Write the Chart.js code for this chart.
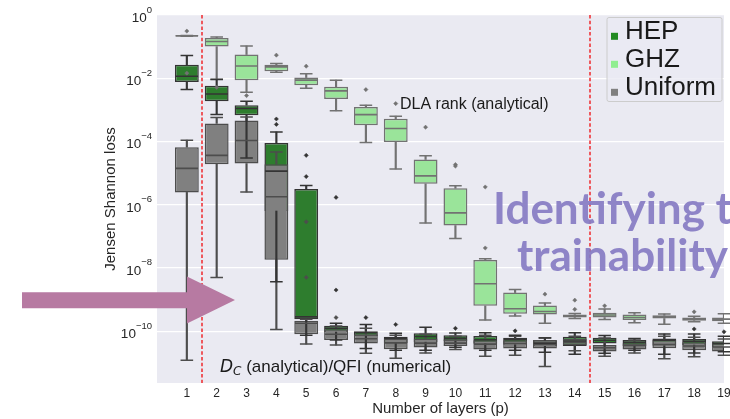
<!DOCTYPE html>
<html>
<head>
<meta charset="utf-8">
<script src="https://cdn.jsdelivr.net/npm/chart.js@4.4.0/dist/chart.umd.min.js"></script>
<style>
  html, body { margin: 0; padding: 0; background: #ffffff; }
  #wrap { width: 730px; height: 419px; }
</style>
</head>
<body>
<div id="wrap"><canvas id="chart" width="730" height="419"></canvas></div>
<script>
// Number of QAOA layers p
const layers = ['1','2','3','4','5','6','7','8','9','10','11','12','13','14','15','16','17','18','19'];

// Per layer: [lower whisker, Q1, median, Q3, upper whisker] of the Jensen-Shannon loss
const hepStats = [
  [4.37e-3, 7.59e-3, 1.15e-2, 2.69e-2, 5.25e-2],
  [7.08e-4, 1.86e-3, 3.16e-3, 5.75e-3, 9.12e-3],
  [3.02e-5, 6.76e-4, 1.10e-3, 1.41e-3, 1.86e-3],
  [3.63e-9, 6.31e-7, 1.15e-5, 8.91e-5, 2.00e-4],
  [7.41e-11, 2.40e-10, 2.82e-10, 3.16e-6, 4.07e-6],
  [5.25e-11, 9.33e-11, 1.23e-10, 1.48e-10, 1.78e-10],
  [2.82e-11, 6.92e-11, 8.91e-11, 1.00e-10, 1.62e-10],
  [2.51e-11, 4.17e-11, 6.03e-11, 6.61e-11, 8.51e-11],
  [2.51e-11, 4.47e-11, 6.76e-11, 8.51e-11, 1.32e-10],
  [3.09e-11, 4.79e-11, 5.89e-11, 7.41e-11, 8.71e-11],
  [2.51e-11, 3.98e-11, 5.37e-11, 7.08e-11, 8.91e-11],
  [2.51e-11, 3.72e-11, 5.50e-11, 6.17e-11, 7.41e-11],
  [2.14e-11, 3.31e-11, 4.17e-11, 5.13e-11, 6.03e-11],
  [1.86e-11, 3.39e-11, 4.90e-11, 6.61e-11, 8.91e-11],
  [2.00e-11, 4.07e-11, 5.13e-11, 6.17e-11, 7.24e-11],
  [2.51e-11, 3.39e-11, 4.47e-11, 5.25e-11, 5.89e-11],
  [1.86e-11, 3.47e-11, 5.13e-11, 5.89e-11, 8.13e-11],
  [2.04e-11, 3.63e-11, 4.79e-11, 5.62e-11, 8.13e-11],
  [2.24e-11, 3.09e-11, 4.07e-11, 4.79e-11, 6.92e-11]
];
const ghzStats = [
  [2.14e-1, 2.14e-1, 2.19e-1, 2.24e-1, 2.24e-1],
  [9.33e-3, 1.00e-1, 1.45e-1, 1.86e-1, 2.00e-1],
  [3.63e-3, 8.71e-3, 2.45e-2, 5.62e-2, 1.05e-1],
  [1.55e-2, 1.66e-2, 2.29e-2, 2.69e-2, 2.95e-2],
  [4.79e-3, 6.03e-3, 8.71e-3, 1.05e-2, 1.38e-2],
  [9.33e-4, 2.19e-3, 3.98e-3, 5.37e-3, 8.71e-3],
  [9.33e-5, 3.24e-4, 7.08e-4, 1.23e-3, 1.41e-3],
  [1.35e-5, 9.55e-5, 2.57e-4, 5.25e-4, 6.31e-4],
  [2.63e-7, 4.57e-6, 8.13e-6, 2.69e-5, 3.55e-5],
  [8.51e-8, 2.19e-7, 5.50e-7, 3.31e-6, 3.98e-6],
  [2.24e-10, 6.31e-10, 3.16e-9, 1.78e-8, 1.95e-8],
  [3.02e-10, 3.55e-10, 5.13e-10, 1.66e-9, 2.09e-9],
  [1.78e-10, 3.39e-10, 4.17e-10, 6.46e-10, 7.76e-10],
  [2.51e-10, 2.69e-10, 3.02e-10, 3.39e-10, 3.63e-10],
  [2.34e-10, 2.69e-10, 3.24e-10, 3.80e-10, 5.01e-10],
  [1.86e-10, 2.24e-10, 2.69e-10, 3.39e-10, 3.80e-10],
  [1.66e-10, 2.51e-10, 2.82e-10, 3.16e-10, 3.47e-10],
  [2.00e-10, 2.14e-10, 2.40e-10, 2.69e-10, 2.95e-10],
  [1.78e-10, 2.04e-10, 2.40e-10, 2.69e-10, 3.55e-10]
];
const uniformStats = [
  [1.20e-11, 2.45e-6, 1.41e-5, 6.61e-5, 1.10e-4],
  [5.01e-9, 1.91e-5, 3.63e-5, 3.72e-4, 5.75e-4],
  [2.51e-6, 2.00e-5, 1.07e-4, 4.57e-4, 5.89e-4],
  [1.12e-10, 1.82e-8, 1.78e-6, 1.91e-5, 4.68e-5],
  [3.89e-11, 7.94e-11, 1.78e-10, 2.14e-10, 2.40e-10],
  [3.63e-11, 5.25e-11, 7.94e-11, 1.15e-10, 1.45e-10],
  [2.00e-11, 4.07e-11, 5.75e-11, 7.94e-11, 1.23e-10],
  [1.38e-11, 2.69e-11, 4.27e-11, 5.89e-11, 7.41e-11],
  [2.04e-11, 3.02e-11, 4.17e-11, 5.89e-11, 7.94e-11],
  [2.63e-11, 3.39e-11, 4.17e-11, 5.50e-11, 6.92e-11],
  [1.62e-11, 2.63e-11, 3.89e-11, 5.13e-11, 7.41e-11],
  [1.74e-11, 2.82e-11, 4.07e-11, 5.13e-11, 6.92e-11],
  [7.59e-12, 2.82e-11, 3.80e-11, 5.25e-11, 6.17e-11],
  [2.40e-11, 3.63e-11, 4.47e-11, 5.75e-11, 6.92e-11],
  [1.62e-11, 2.29e-11, 3.02e-11, 3.63e-11, 6.03e-11],
  [2.04e-11, 2.63e-11, 3.55e-11, 4.17e-11, 5.25e-11],
  [1.35e-11, 2.88e-11, 3.80e-11, 5.25e-11, 6.92e-11],
  [1.55e-11, 2.51e-11, 3.39e-11, 4.47e-11, 6.46e-11],
  [1.74e-11, 2.29e-11, 3.16e-11, 4.17e-11, 5.62e-11]
];

// Points beyond the whiskers: [layer, value]
const hepOutliers = [[4, 5.13e-4], [4, 3.47e-4], [5, 3.63e-5], [5, 7.76e-6], [6, 1.70e-6], [6, 2.00e-9],
  [7, 2.69e-10], [8, 1.62e-10], [10, 1.23e-10], [12, 1.02e-10], [18, 1.17e-10], [19, 9.55e-11]];
const ghzOutliers = [[1, 3.09e-1], [1, 1.45e-2], [2, 5.13e-3], [3, 2.82e-3], [4, 5.37e-2], [5, 2.40e-2],
  [7, 4.37e-3], [8, 1.58e-3], [9, 2.82e-4], [10, 1.86e-5], [10, 1.66e-5], [11, 4.27e-8], [11, 3.63e-6],
  [13, 1.48e-9], [14, 9.55e-10], [14, 4.90e-10], [15, 6.31e-10], [18, 4.07e-10]];
const uniformOutliers = [[5, 2.88e-7], [5, 5.01e-9], [6, 2.69e-10]];

// Regime boundaries (between layers) and labelled decades
const boundaryLayers = [1.5, 14.5];
const decadeExponents = [0, -2, -4, -6, -8, -10];

const series = [
  { name: 'HEP',     stats: hepStats,     outliers: hepOutliers,     fill: '#2e7d2e', edge: '#343434', key: '#228b22' },
  { name: 'GHZ',     stats: ghzStats,     outliers: ghzOutliers,     fill: '#9ae49a', edge: '#727272', key: '#90ee90' },
  { name: 'Uniform', stats: uniformStats, outliers: uniformOutliers, fill: '#808080', edge: '#4d4d4d', key: '#808080' }
];

// leading empty slot gives the axis its left margin
const axisLabels = [''].concat(layers);
const pad = arr => [null].concat(arr);

const datasets = [];
series.forEach((s, i) => {
  datasets.push({
    type: 'bar', label: s.name,
    data: pad(s.stats.map(r => [r[1], r[3]])),
    backgroundColor: s.fill, borderColor: s.edge, borderWidth: 1.5, borderSkipped: false,
    grouped: false, barPercentage: 0.8, categoryPercentage: 1, order: 30 - i
  });
  [[0, 1], [3, 4]].forEach(([a, b]) => datasets.push({
    type: 'bar', label: s.name + ' whisker',
    data: pad(s.stats.map(r => [r[a], r[b]])),
    backgroundColor: s.edge, borderWidth: 0, barThickness: 1.5, grouped: false, order: 20
  }));
  [0, 4].forEach(k => datasets.push({
    type: 'line', label: s.name + ' cap',
    data: pad(s.stats.map(r => r[k])),
    showLine: false, pointStyle: 'line', pointRadius: 6.3,
    pointBorderColor: s.edge, pointBorderWidth: 1.5, order: 15
  }));
  datasets.push({
    type: 'line', label: s.name + ' median',
    data: pad(s.stats.map(r => r[2])),
    showLine: false, pointStyle: 'line', pointRadius: 11.2,
    pointBorderColor: s.edge, pointBorderWidth: 1.6, order: 10
  });
  datasets.push({
    type: 'line', label: s.name + ' outliers',
    data: s.outliers.map(([p, v]) => ({ x: String(p), y: v })),
    showLine: false, pointStyle: 'rectRot', pointRadius: 2.1,
    pointBackgroundColor: s.edge, pointBorderColor: s.edge, pointBorderWidth: 0.5, order: 5
  });
});

const SANS = '"Liberation Sans", Arial, sans-serif';

const decorations = {
  id: 'decorations',
  beforeDraw(chart) {
    const { ctx, chartArea: a } = chart;
    ctx.save();
    ctx.fillStyle = '#ffffff';
    ctx.fillRect(0, 0, chart.width, chart.height);
    ctx.fillStyle = '#eaeaf2';
    ctx.fillRect(a.left, a.top, a.right - a.left, a.bottom - a.top);
    ctx.restore();
  },
  afterDatasetsDraw(chart) {
    const { ctx, chartArea: a, scales: { x } } = chart;
    ctx.save();
    ctx.strokeStyle = '#f0282c';
    ctx.lineWidth = 1.5;
    ctx.setLineDash([3.5, 2.2]);
    boundaryLayers.forEach(v => {
      const px = Math.round(x.getPixelForValue(v));
      ctx.beginPath();
      ctx.moveTo(px, a.top);
      ctx.lineTo(px, a.bottom);
      ctx.stroke();
    });
    ctx.restore();
  },
  afterDraw(chart) {
    const { ctx, chartArea: a, scales: { x, y } } = chart;
    ctx.save();
    ctx.fillStyle = '#262626';

    // layer labels along the bottom axis
    ctx.font = '12px ' + SANS;
    ctx.textAlign = 'center';
    ctx.textBaseline = 'alphabetic';
    layers.forEach((lab, i) => {
      ctx.fillText(lab, x.getPixelForValue(i + 1), a.bottom + 13.5);
    });

    // decade labels 10^k
    decadeExponents.forEach(e => {
      const py = y.getPixelForValue(Math.pow(10, e));
      const sup = e === 0 ? '0' : '\u2212' + Math.abs(e);
      const right = a.left - 5;
      ctx.font = '9.5px ' + SANS;
      const ws = ctx.measureText(sup).width;
      ctx.textAlign = 'left';
      ctx.fillText(sup, right - ws, py - 2.5);
      ctx.font = '13.5px ' + SANS;
      ctx.textAlign = 'right';
      ctx.fillText('10', right - ws, py + 7);
    });

    // axis titles
    ctx.font = '15px ' + SANS;
    ctx.textAlign = 'center';
    ctx.fillText('Number of layers (p)', (a.left + a.right) / 2, 413);
    ctx.save();
    ctx.translate(115, (a.top + a.bottom) / 2);
    ctx.rotate(-Math.PI / 2);
    ctx.fillText('Jensen Shannon loss', 0, 0);
    ctx.restore();

    // regime annotations
    ctx.fillStyle = '#1a1a1a';
    ctx.textAlign = 'left';
    ctx.font = '16px ' + SANS;
    ctx.fillText('DLA rank (analytical)', 400, 108.5);
    let tx = 220;
    ctx.font = 'italic 17px "DejaVu Sans", sans-serif';
    ctx.fillText('D', tx, 371.5);
    tx += ctx.measureText('D').width;
    ctx.font = 'italic 12px "DejaVu Sans", sans-serif';
    ctx.fillText('C', tx, 375);
    tx += ctx.measureText('C').width;
    ctx.font = '17px ' + SANS;
    ctx.fillText(' (analytical)/QFI (numerical)', tx, 371.5);

    // legend
    const lx = 607, ly = 17.5, lw = 115, lh = 84;
    ctx.fillStyle = 'rgba(234,234,242,0.8)';
    ctx.strokeStyle = '#cccccc';
    ctx.lineWidth = 1;
    ctx.beginPath();
    ctx.roundRect(lx, ly, lw, lh, 2);
    ctx.fill();
    ctx.stroke();
    ctx.font = '26px ' + SANS;
    series.forEach((s, i) => {
      const base = 39.3 + i * 28;
      ctx.fillStyle = s.key;
      ctx.fillRect(611, base - 6.5, 7, 7);
      ctx.fillStyle = '#1a1a1a';
      ctx.fillText(s.name, 625, base);
    });

    // arrow pointing at the onset region
    ctx.fillStyle = '#b77aa2';
    ctx.beginPath();
    ctx.moveTo(22, 292.3);
    ctx.lineTo(187, 292.3);
    ctx.lineTo(187, 276.5);
    ctx.lineTo(235, 300);
    ctx.lineTo(187, 323.5);
    ctx.lineTo(187, 308.3);
    ctx.lineTo(22, 308.3);
    ctx.closePath();
    ctx.fill();

    // headline
    ctx.fillStyle = 'rgba(134,124,196,0.93)';
    ctx.font = 'bold 44px Lato, "Open Sans", sans-serif';
    ctx.fillText('Identifying the', 493, 223.5);
    ctx.fillText('trainability', 517, 270.7);
    ctx.restore();
  }
};

new Chart(document.getElementById('chart'), {
  type: 'bar',
  data: { labels: axisLabels, datasets },
  options: {
    responsive: false,
    animation: false,
    events: [],
    devicePixelRatio: 1,
    layout: { autoPadding: false, padding: { left: 157, right: 6, top: 15, bottom: 0 } },
    plugins: { legend: { display: false }, tooltip: { enabled: false } },
    scales: {
      x: {
        type: 'category',
        offset: false,
        grid: { display: false, drawTicks: false, offset: false },
        border: { display: false },
        ticks: { display: false },
        afterFit: s => { s.height = 36; }
      },
      y: {
        type: 'logarithmic',
        min: 2.29e-12,
        max: 1,
        grid: { color: '#ffffff', lineWidth: 1.2, drawTicks: false },
        border: { display: false },
        ticks: { display: false },
        afterBuildTicks: s => { s.ticks = decadeExponents.map(e => ({ value: Math.pow(10, e) })); },
        afterFit: s => { s.width = 0; }
      }
    }
  },
  plugins: [decorations]
});
</script>
</body>
</html>
